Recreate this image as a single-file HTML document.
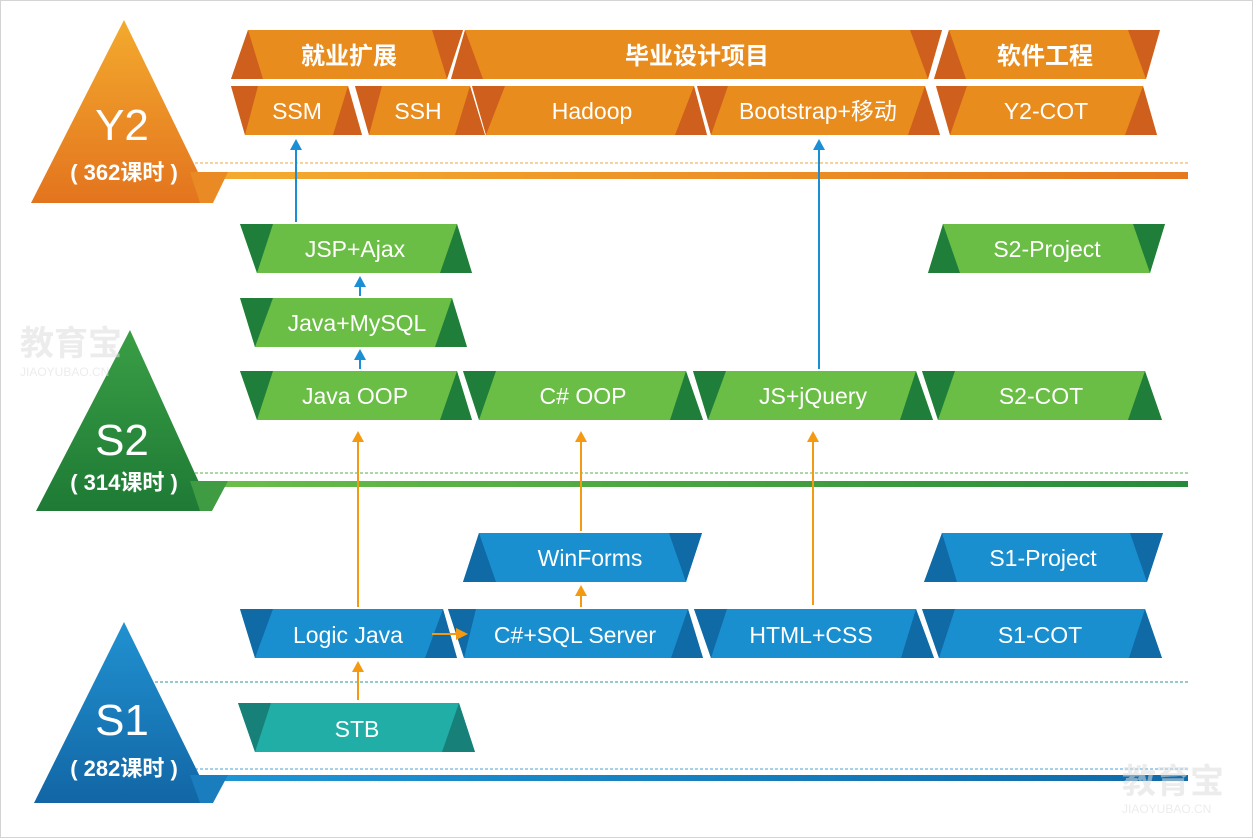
<!DOCTYPE html>
<html><head><meta charset="utf-8"><style>
html,body{margin:0;padding:0;background:#fff;}
svg{display:block;}
text{font-family:"Liberation Sans","Noto Sans CJK SC",sans-serif;fill:#fff;}
</style></head><body>
<svg width="1253" height="838" viewBox="0 0 1253 838" xmlns="http://www.w3.org/2000/svg">
<defs>
<linearGradient id="go" x1="0" x2="1"><stop offset="0" stop-color="#f4ac30"/><stop offset="1" stop-color="#e5791f"/></linearGradient>
<linearGradient id="gg" x1="0" x2="1"><stop offset="0" stop-color="#6cbf48"/><stop offset="1" stop-color="#258a3a"/></linearGradient>
<linearGradient id="gb" x1="0" x2="1"><stop offset="0" stop-color="#1e95d6"/><stop offset="1" stop-color="#0f6aa8"/></linearGradient>
<linearGradient id="to" x1="0" y1="0" x2="0" y2="1"><stop offset="0" stop-color="#f3aa2e"/><stop offset="1" stop-color="#e3741e"/></linearGradient>
<linearGradient id="tg" x1="0" y1="0" x2="0" y2="1"><stop offset="0" stop-color="#3a9e45"/><stop offset="1" stop-color="#1e7a35"/></linearGradient>
<linearGradient id="tb" x1="0" y1="0" x2="0" y2="1"><stop offset="0" stop-color="#2191d0"/><stop offset="1" stop-color="#1266a5"/></linearGradient>
</defs>
<rect x="0.5" y="0.5" width="1252" height="837" fill="#fff" stroke="#d4d4d4"/>

<line x1="195" y1="163" x2="1188" y2="163" stroke="#f0a43a" stroke-dasharray="3,2" stroke-width="1"/>
<rect x="200" y="172" width="988" height="7" fill="url(#go)"/>
<line x1="195" y1="473" x2="1188" y2="473" stroke="#5aae50" stroke-dasharray="3,2" stroke-width="1"/>
<rect x="200" y="481" width="988" height="6" fill="url(#gg)"/>
<line x1="155" y1="682" x2="1188" y2="682" stroke="#2a9a92" stroke-dasharray="3,2" stroke-width="1"/>
<line x1="195" y1="769" x2="1188" y2="769" stroke="#4aa0d8" stroke-dasharray="3,2" stroke-width="1"/>
<rect x="200" y="775" width="988" height="6" fill="url(#gb)"/>

<polygon points="124,20 213,203 31,203" fill="url(#to)"/>
<polygon points="190,172 228,172 213,203 200,203" fill="#ea8a24"/>
<polygon points="130,330 212,511 36,511" fill="url(#tg)"/>
<polygon points="190,481 228,481 212,511 200,511" fill="#3f9c42"/>
<polygon points="124,622 213,803 34,803" fill="url(#tb)"/>
<polygon points="190,775 228,775 213,803 200,803" fill="#1a7dbd"/>
<text x="122" y="140" font-size="44" text-anchor="middle">Y2</text>
<text x="124" y="180" font-size="22" font-weight="bold" text-anchor="middle">( 362课时 )</text>
<text x="122" y="455" font-size="44" text-anchor="middle">S2</text>
<text x="124" y="490" font-size="22" font-weight="bold" text-anchor="middle">( 314课时 )</text>
<text x="122" y="735" font-size="44" text-anchor="middle">S1</text>
<text x="124" y="776" font-size="22" font-weight="bold" text-anchor="middle">( 282课时 )</text>

<g opacity="0.55">
<text x="20" y="355" font-size="34" font-weight="bold" style="fill:#ddd">教育宝</text>
<text x="20" y="376" font-size="12" style="fill:#ddd">JIAOYUBAO.CN</text>
<text x="1122" y="793" font-size="34" font-weight="bold" style="fill:#ddd">教育宝</text>
<text x="1122" y="813" font-size="12" style="fill:#ddd">JIAOYUBAO.CN</text>
</g>

<g font-size="23">
<polygon points="231,86 348,86 362,135 245,135" fill="#e98c1e"/>
<polygon points="231,86 258,86 245,135" fill="#cf5f1c"/><polygon points="348,86 362,135 333,135" fill="#cf5f1c"/>
<text x="297" y="119" text-anchor="middle">SSM</text>
<polygon points="355,86 470,86 485,135 369,135" fill="#e98c1e"/>
<polygon points="355,86 382,86 369,135" fill="#cf5f1c"/><polygon points="470,86 485,135 455,135" fill="#cf5f1c"/>
<text x="418" y="119" text-anchor="middle">SSH</text>
<polygon points="472,86 694,86 707,135 486,135" fill="#e98c1e"/>
<polygon points="472,86 505,86 486,135" fill="#cf5f1c"/><polygon points="694,86 707,135 675,135" fill="#cf5f1c"/>
<text x="592" y="119" text-anchor="middle">Hadoop</text>
<polygon points="697,86 925,86 940,135 711,135" fill="#e98c1e"/>
<polygon points="697,86 728,86 711,135" fill="#cf5f1c"/><polygon points="925,86 940,135 908,135" fill="#cf5f1c"/>
<text x="818" y="119" text-anchor="middle">Bootstrap+移动</text>
<polygon points="936,86 1143,86 1157,135 950,135" fill="#e98c1e"/>
<polygon points="936,86 967,86 950,135" fill="#cf5f1c"/><polygon points="1143,86 1157,135 1125,135" fill="#cf5f1c"/>
<text x="1046" y="119" text-anchor="middle">Y2-COT</text>
</g>

<g font-size="24" font-weight="bold">
<polygon points="248,30 463,30 447,79 231,79" fill="#e98c1e"/>
<polygon points="248,30 231,79 263,79" fill="#cf5f1c"/><polygon points="432,30 463,30 447,79" fill="#cf5f1c"/>
<text x="349" y="64" text-anchor="middle">就业扩展</text>
<polygon points="465,30 942,30 928,79 451,79" fill="#e98c1e"/>
<polygon points="465,30 451,79 483,79" fill="#cf5f1c"/><polygon points="910,30 942,30 928,79" fill="#cf5f1c"/>
<text x="697" y="64" text-anchor="middle">毕业设计项目</text>
<polygon points="949,30 1160,30 1146,79 934,79" fill="#e98c1e"/>
<polygon points="949,30 934,79 966,79" fill="#cf5f1c"/><polygon points="1128,30 1160,30 1146,79" fill="#cf5f1c"/>
<text x="1045" y="64" text-anchor="middle">软件工程</text>
</g>

<g font-size="23">
<polygon points="240,224 457,224 472,273 257,273" fill="#6abd45"/>
<polygon points="240,224 273,224 257,273" fill="#1f7f3a"/><polygon points="457,224 472,273 440,273" fill="#1f7f3a"/>
<text x="355" y="257" text-anchor="middle">JSP+Ajax</text>
<polygon points="240,298 452,298 467,347 255,347" fill="#6abd45"/>
<polygon points="240,298 273,298 255,347" fill="#1f7f3a"/><polygon points="452,298 467,347 435,347" fill="#1f7f3a"/>
<text x="357" y="331" text-anchor="middle">Java+MySQL</text>
<polygon points="943,224 1165,224 1150,273 928,273" fill="#6abd45"/>
<polygon points="943,224 928,273 960,273" fill="#1f7f3a"/><polygon points="1133,224 1165,224 1150,273" fill="#1f7f3a"/>
<text x="1047" y="257" text-anchor="middle">S2-Project</text>
<polygon points="240,371 457,371 472,420 257,420" fill="#6abd45"/>
<polygon points="240,371 273,371 257,420" fill="#1f7f3a"/><polygon points="457,371 472,420 440,420" fill="#1f7f3a"/>
<text x="355" y="404" text-anchor="middle">Java OOP</text>
<polygon points="463,371 686,371 703,420 479,420" fill="#6abd45"/>
<polygon points="463,371 496,371 479,420" fill="#1f7f3a"/><polygon points="686,371 703,420 670,420" fill="#1f7f3a"/>
<text x="583" y="404" text-anchor="middle">C# OOP</text>
<polygon points="693,371 916,371 933,420 708,420" fill="#6abd45"/>
<polygon points="693,371 726,371 708,420" fill="#1f7f3a"/><polygon points="916,371 933,420 900,420" fill="#1f7f3a"/>
<text x="813" y="404" text-anchor="middle">JS+jQuery</text>
<polygon points="922,371 1145,371 1162,420 938,420" fill="#6abd45"/>
<polygon points="922,371 955,371 938,420" fill="#1f7f3a"/><polygon points="1145,371 1162,420 1128,420" fill="#1f7f3a"/>
<text x="1041" y="404" text-anchor="middle">S2-COT</text>
</g>

<g font-size="23">
<polygon points="479,533 702,533 686,582 463,582" fill="#1a8fd0"/>
<polygon points="479,533 463,582 496,582" fill="#0f6aa5"/><polygon points="669,533 702,533 686,582" fill="#0f6aa5"/>
<text x="590" y="566" text-anchor="middle">WinForms</text>
<polygon points="942,533 1163,533 1147,582 924,582" fill="#1a8fd0"/>
<polygon points="942,533 924,582 957,582" fill="#0f6aa5"/><polygon points="1130,533 1163,533 1147,582" fill="#0f6aa5"/>
<text x="1043" y="566" text-anchor="middle">S1-Project</text>
<polygon points="240,609 443,609 457,658 255,658" fill="#1a8fd0"/>
<polygon points="240,609 273,609 255,658" fill="#0f6aa5"/><polygon points="443,609 457,658 425,658" fill="#0f6aa5"/>
<text x="348" y="643" text-anchor="middle">Logic Java</text>
<polygon points="448,609 688,609 703,658 464,658" fill="#1a8fd0"/>
<polygon points="448,609 476,609 464,658" fill="#0f6aa5"/><polygon points="688,609 703,658 671,658" fill="#0f6aa5"/>
<text x="575" y="643" text-anchor="middle">C#+SQL Server</text>
<polygon points="694,609 916,609 934,658 711,658" fill="#1a8fd0"/>
<polygon points="694,609 727,609 711,658" fill="#0f6aa5"/><polygon points="916,609 934,658 901,658" fill="#0f6aa5"/>
<text x="811" y="643" text-anchor="middle">HTML+CSS</text>
<polygon points="922,609 1145,609 1162,658 939,658" fill="#1a8fd0"/>
<polygon points="922,609 955,609 939,658" fill="#0f6aa5"/><polygon points="1145,609 1162,658 1129,658" fill="#0f6aa5"/>
<text x="1040" y="643" text-anchor="middle">S1-COT</text>
<polygon points="238,703 459,703 475,752 255,752" fill="#20aea6"/>
<polygon points="238,703 271,703 255,752" fill="#178079"/><polygon points="459,703 475,752 442,752" fill="#178079"/>
<text x="357" y="737" text-anchor="middle">STB</text>
</g>

<g stroke="#1b8fd6" stroke-width="2" fill="#1b8fd6">
<line x1="296" y1="222" x2="296" y2="148"/><polygon points="290,150 302,150 296,139" stroke="none"/>
<line x1="360" y1="296" x2="360" y2="285"/><polygon points="354,287 366,287 360,276" stroke="none"/>
<line x1="360" y1="369" x2="360" y2="358"/><polygon points="354,360 366,360 360,349" stroke="none"/>
<line x1="819" y1="369" x2="819" y2="148"/><polygon points="813,150 825,150 819,139" stroke="none"/>
</g>
<g stroke="#f39a12" stroke-width="2" fill="#f39a12">
<line x1="358" y1="607" x2="358" y2="440"/><polygon points="352,442 364,442 358,431" stroke="none"/>
<line x1="358" y1="700" x2="358" y2="670"/><polygon points="352,672 364,672 358,661" stroke="none"/>
<line x1="581" y1="531" x2="581" y2="440"/><polygon points="575,442 587,442 581,431" stroke="none"/>
<line x1="581" y1="607" x2="581" y2="594"/><polygon points="575,596 587,596 581,585" stroke="none"/>
<line x1="813" y1="605" x2="813" y2="440"/><polygon points="807,442 819,442 813,431" stroke="none"/>
<line x1="432" y1="634" x2="458" y2="634"/><polygon points="456,628 456,640 468,634" stroke="none"/>
</g>
</svg>
</body></html>
